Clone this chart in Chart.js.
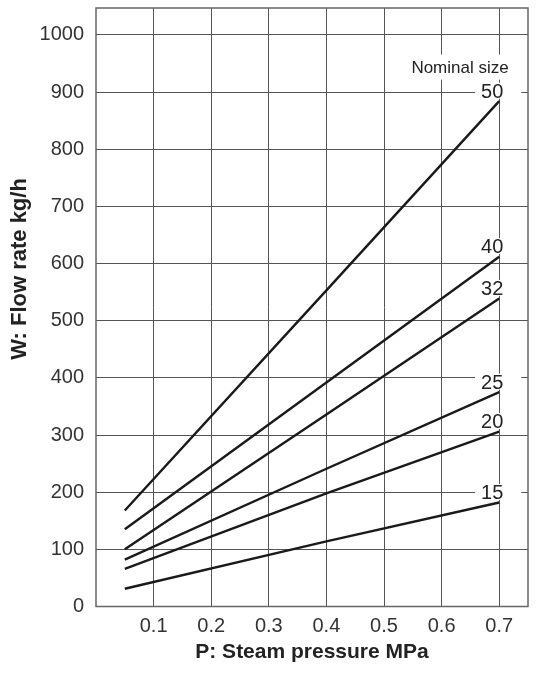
<!DOCTYPE html>
<html lang="en">
<head>
<meta charset="UTF-8">
<title>Flow rate vs steam pressure</title>
<script src="https://cdn.jsdelivr.net/npm/chart.js@4.4.0/dist/chart.umd.min.js"></script>
<style>
    html, body { margin: 0; padding: 0; background: #ffffff; }
    .chart-container { position: relative; width: 549px; height: 677px; }
</style>
</head>
<body>
<div class="chart-container"><canvas id="flowChart"></canvas></div>
<script>
// values: flow rate (kg/h) at each steam pressure (MPa)
const pressure = [0.05, 0.4, 0.7];
const flow50 = [168, 553, 884];
const flow40 = [135, 392, 612];
const flow32 = [100, 336, 539];
const flow25 = [82, 241, 375];
const flow20 = [66, 198, 306];
const flow15 = [31, 114, 182];
const sizeLabels = ['50', '40', '32', '25', '20', '15'];
const xTicks = [0.1, 0.2, 0.3, 0.4, 0.5, 0.6, 0.7];
const yTicks = [0, 100, 200, 300, 400, 500, 600, 700, 800, 900, 1000];

const FONT = "'Liberation Sans', Arial, Helvetica, sans-serif";
const series = [flow50, flow40, flow32, flow25, flow20, flow15];

const datasets = series.map((vals, i) => ({
    label: sizeLabels[i],
    data: vals.map((v, j) => ({ x: pressure[j], y: v })),
    borderColor: '#1a1a1a',
    borderWidth: 2.4,
    pointRadius: 0,
    tension: 0,
    fill: false
}));

// frame, y title and the size numbers (on white, so the grid is cut behind them)
const annotations = {
    id: 'annotations',
    beforeDatasetsDraw(chart) {
        const ctx = chart.ctx;
        const area = chart.chartArea;
        const xs = chart.scales.x, ys = chart.scales.y;
        ctx.save();

        ctx.strokeStyle = '#666';
        ctx.lineWidth = 1.5;
        ctx.strokeRect(area.left, area.top, area.right - area.left, area.bottom - area.top);

        // "Nominal size" heading
        ctx.font = '17px ' + FONT;
        const head = 'Nominal size';
        const hw = ctx.measureText(head).width;
        const hx = xs.getPixelForValue(0.632), hy = ys.getPixelForValue(934);
        ctx.fillStyle = '#fff';
        ctx.fillRect(hx - hw / 2 - 6, hy - 18, hw + 12, 25);
        ctx.fillStyle = '#222';
        ctx.textAlign = 'center';
        ctx.textBaseline = 'alphabetic';
        ctx.fillText(head, hx, hy);

        ctx.font = '20px ' + FONT;
        chart.data.datasets.forEach((ds, i) => {
            const meta = chart.getDatasetMeta(i);
            const last = meta.data[meta.data.length - 1];
            const w = ctx.measureText(ds.label).width;
            const cx = last.x - 7, base = last.y - 3.5;
            ctx.fillStyle = '#fff';
            ctx.fillRect(cx - w / 2 - 6, base - 15, (last.x + 22) - (cx - w / 2 - 6), 16);
            ctx.fillStyle = '#222';
            ctx.fillText(ds.label, cx, base);
        });

        // y axis title, sits a bit above the middle in the original
        ctx.translate(20, 269);
        ctx.rotate(-Math.PI / 2);
        ctx.font = 'bold 22px ' + FONT;
        ctx.textBaseline = 'middle';
        ctx.fillText('W: Flow rate kg/h', 0, 0);
        ctx.restore();
    }
};

const ctx = document.getElementById('flowChart').getContext('2d');
new Chart(ctx, {
    type: 'line',
    data: { datasets: datasets },
    options: {
        responsive: true,
        maintainAspectRatio: false,
        animation: false,
        layout: { padding: { top: 8, right: 21, left: 0, bottom: 0 } },
        plugins: {
            legend: { display: false },
            tooltip: { enabled: false }
        },
        scales: {
            x: {
                type: 'linear',
                min: 0,
                max: 0.75,
                afterBuildTicks: s => { s.ticks = xTicks.map(v => ({ value: v })); },
                afterFit: s => { s.height = 70.5; s.paddingLeft = 0; s.paddingRight = 0; },
                grid: { color: '#555', lineWidth: 1, drawTicks: false },
                border: { display: false },
                ticks: {
                    autoSkip: false,
                    maxRotation: 0,
                    padding: 8,
                    color: '#333',
                    font: { family: FONT, size: 20 },
                    callback: v => v.toFixed(1)
                },
                title: {
                    display: true,
                    text: 'P: Steam pressure MPa',
                    color: '#222',
                    font: { family: FONT, size: 21, weight: 'bold' },
                    padding: { top: 0, bottom: 12 }
                }
            },
            y: {
                min: 0,
                max: 1047,
                afterBuildTicks: s => { s.ticks = yTicks.map(v => ({ value: v })); },
                afterFit: s => { s.width = 96; s.paddingTop = 0; s.paddingBottom = 0; },
                grid: { color: '#555', lineWidth: 1, drawTicks: false },
                border: { display: false },
                ticks: {
                    autoSkip: false,
                    padding: 12,
                    color: '#333',
                    font: { family: FONT, size: 20 },
                    callback: v => String(v)
                }
            }
        }
    },
    plugins: [annotations]
});
</script>
</body>
</html>
